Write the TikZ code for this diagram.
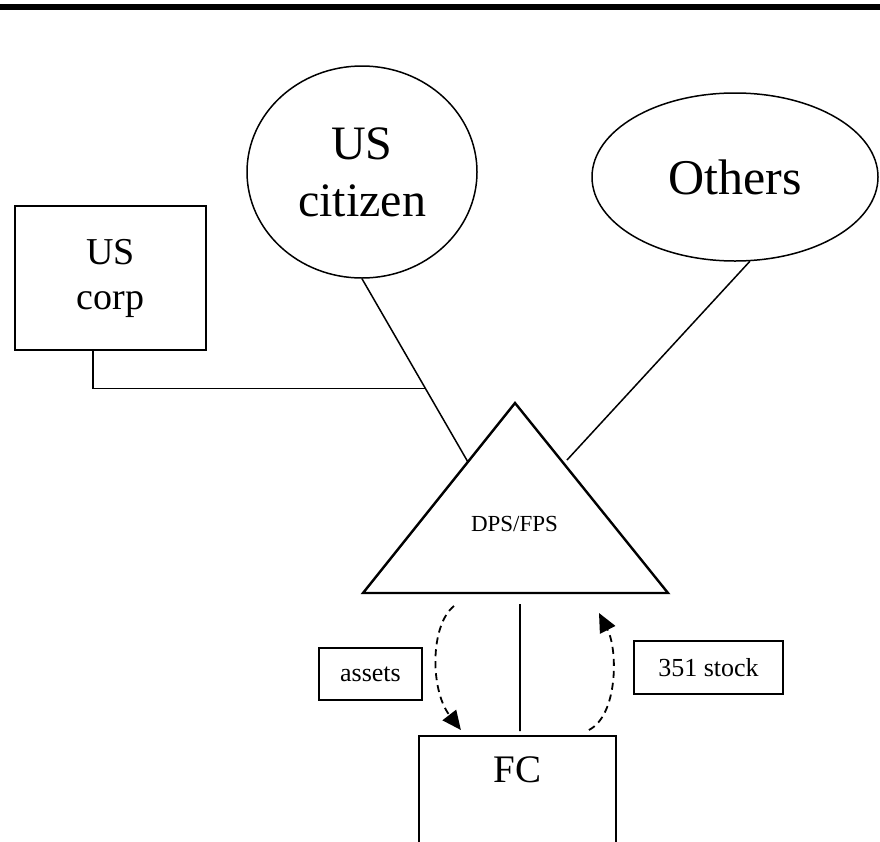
\documentclass[tikz,border=0pt]{standalone}
\usepackage{fontspec}
\setmainfont{Liberation Serif}
\usetikzlibrary{calc,shapes.geometric,arrows.meta}
\tikzset{
  thinline/.style={line width=1.5pt},
  ellnode/.style={draw, ellipse, line width=1.5pt, inner sep=0pt, align=center},
  boxnode/.style={draw, rectangle, line width=1.7pt, inner sep=0pt, align=center},
  flowarrow/.style={line width=1.8pt, dash pattern=on 7pt off 5pt, -{Triangle[length=19pt,width=17pt]}},
}
\begin{document}
\begin{tikzpicture}[x=1pt,y=-1pt]
\useasboundingbox (0,0) rectangle (880,841);
\clip (0,0) rectangle (880,841);
% top bar
\fill (0,4) rectangle (880,10);
% nodes
\node[ellnode, minimum width=230pt, minimum height=212pt,
      font=\fontsize{48}{57}\selectfont] (uscit) at (362,172) {US\\citizen};
\node[ellnode, minimum width=286pt, minimum height=168pt,
      font=\fontsize{50}{60}\selectfont] (others) at (735,177) {Others};
\node[boxnode, minimum width=191pt, minimum height=144pt,
      font=\fontsize{38}{45}\selectfont] (uscorp) at (110.5,278) {US\\corp};
\node[boxnode, line width=2pt, minimum width=103pt, minimum height=52pt,
      font=\fontsize{26}{31}\selectfont] (assets) at (370.5,674) {assets};
\node[boxnode, line width=2pt, minimum width=149pt, minimum height=53pt,
      font=\fontsize{26}{31}\selectfont] (stock) at (708.5,667.5) {351 stock};
\node[boxnode, line width=2.2pt, minimum width=197pt, minimum height=150pt, anchor=north] (fc) at (517.5,735) {};
\node[anchor=base, font=\fontsize{39}{47}\selectfont, inner sep=0pt] (fclabel) at (517.5,782) {FC};
% triangle
\coordinate (tA) at (515,403);
\coordinate (tL) at (363,593);
\coordinate (tR) at (668,593);
\draw[line width=2.4pt, line join=miter] (tA) -- (tL) -- (tR) -- cycle;
\node[font=\fontsize{23}{28}\selectfont, inner sep=0pt, anchor=base] (dps) at (514.5,531) {DPS/FPS};
% connectors
\coordinate (tl) at ($(tA)!0.31!(tL)$);
\draw[thinline] (uscit.south) -- (tl);
\coordinate (j) at ($(uscit.south)!0.598!(tl)$);
\coordinate (cs) at ($(uscorp.south west)!0.408!(uscorp.south east)$);
\draw[thinline] (cs) |- (j);
\coordinate (tr) at (567,460);
\draw[thinline] (others.-80) -- (tr);
\coordinate (tb) at ($(tL)!0.515!(tR)$);
\draw[thinline, line width=1.8pt] ($(tb)+(0,11)$) -- ($(fc.north)+(2.5,-4)$);
% flow arrows
\coordinate (a1s) at (454,606);
\coordinate (a1e) at ($(fc.north west)+(43,-5)$);
\draw[flowarrow] (a1s) .. controls (430,625) and (430,690) .. (a1e);
\coordinate (a2s) at ($(fc.north west)+(171,-5)$);
\coordinate (a2e) at (599,613);
\draw[flowarrow] (a2s) .. controls (618,715) and (618,650) .. (a2e);
\end{tikzpicture}
\end{document}
